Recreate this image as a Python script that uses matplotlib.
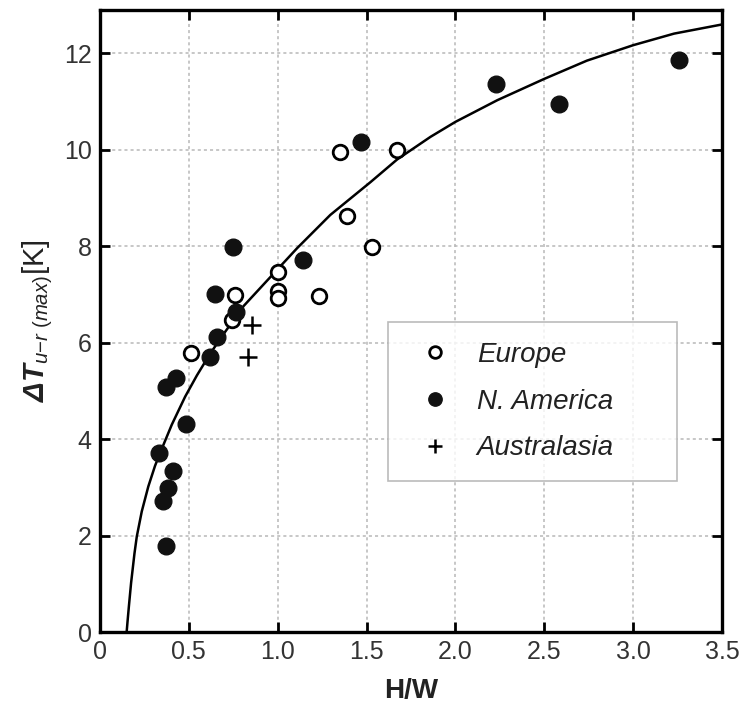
import numpy as np
import matplotlib.pyplot as plt

plt.rcParams['font.family'] = ['Liberation Sans', 'DejaVu Sans']
plt.rcParams['mathtext.fontset'] = 'custom'
plt.rcParams['mathtext.rm'] = 'Liberation Sans'
plt.rcParams['mathtext.it'] = 'Liberation Sans:italic'
plt.rcParams['mathtext.bf'] = 'Liberation Sans:bold:italic'

# Canyon geometry (H/W) vs maximum urban-rural heat island intensity
europe_hw = [0.51, 0.76, 0.74, 1.00, 1.00, 1.00, 1.23, 1.35, 1.39, 1.53, 1.67]
europe_dt = [5.79, 6.98, 6.47, 7.47, 7.07, 6.92, 6.97, 9.95, 8.63, 7.99, 9.99]

namerica_hw = [0.62, 0.66, 0.43, 0.37, 0.485, 0.334, 0.408, 0.385, 0.357, 0.372,
               0.748, 0.648, 0.767, 1.142, 1.471, 2.227, 2.58, 3.256]
namerica_dt = [5.71, 6.12, 5.26, 5.08, 4.31, 3.72, 3.34, 2.98, 2.72, 1.78,
               7.99, 7.02, 6.64, 7.71, 10.16, 11.37, 10.96, 11.86]

austral_hw = [0.855, 0.83]
austral_dt = [6.36, 5.71]

# fitted curve, read along its length
fit_hw = [0.15, 0.155, 0.163, 0.175, 0.194, 0.207, 0.235, 0.272, 0.31, 0.35,
          0.404, 0.479, 0.545, 0.611, 0.676, 0.808, 0.996, 1.109, 1.296, 1.522,
          1.672, 1.86, 2.0, 2.236, 2.499, 2.74, 3.0, 3.23, 3.5]
fit_dt = [0.0, 0.22, 0.55, 1.02, 1.63, 1.98, 2.5, 3.02, 3.45, 3.82,
          4.3, 4.88, 5.32, 5.72, 6.08, 6.76, 7.51, 7.96, 8.65, 9.33,
          9.8, 10.27, 10.58, 11.03, 11.47, 11.85, 12.17, 12.41, 12.6]

fig = plt.figure(figsize=(7.48, 7.22), dpi=100)
ax = fig.add_axes([100 / 748, 1 - 632 / 722, 622 / 748, 622 / 722])

ax.plot(fit_hw, fit_dt, color='black', lw=1.8, solid_joinstyle='round', zorder=2)

ax.plot(europe_hw, europe_dt, 'o', ms=10.5, mfc='white', mec='black', mew=2.0,
        label='Europe', zorder=3)
ax.plot(namerica_hw, namerica_dt, 'o', ms=12, mfc='#111111', mec='#111111', mew=1,
        label='N. America', zorder=3)
ax.plot(austral_hw, austral_dt, '+', ms=13, mec='black', mew=1.8,
        label='Australasia', zorder=3)

ax.set_xlim(0, 3.5)
ax.set_ylim(0, 12.9)
ax.set_xticks(np.arange(0, 3.51, 0.5))
ax.set_xticklabels(['0', '0.5', '1.0', '1.5', '2.0', '2.5', '3.0', '3.5'])
ax.set_yticks([0, 2, 4, 6, 8, 10, 12])

ax.grid(True, color='#b8b8b8', linestyle=(0, (2, 2)), linewidth=1.1)
ax.set_axisbelow(True)

for s in ax.spines.values():
    s.set_linewidth(2.4)
ax.tick_params(direction='in', length=7, width=2, top=True, right=True,
               labelsize=18, labelcolor='#333333', pad=6)

ax.set_xlabel('H/W', fontsize=20, fontweight='bold', color='#222222', labelpad=10)
ax.set_ylabel(r'$\mathbf{\Delta T}_{\mathit{u\mathrm{-}r\ (max)}}$[K]', fontsize=21,
              color='#222222', labelpad=6)

leg = ax.legend(loc='upper left', bbox_to_anchor=(0.463, 0.248, 0.465, 0.25),
                mode='expand', prop={'style': 'italic', 'size': 20},
                frameon=True, fancybox=False, edgecolor='#aaaaaa',
                borderpad=0.7, labelspacing=0.75, handlelength=2.0,
                handletextpad=0.5, markerscale=0.8, borderaxespad=0)
leg.get_frame().set_linewidth(1.2)
for t in leg.get_texts():
    t.set_color('#222222')

fig.savefig('out.png', dpi=100)
